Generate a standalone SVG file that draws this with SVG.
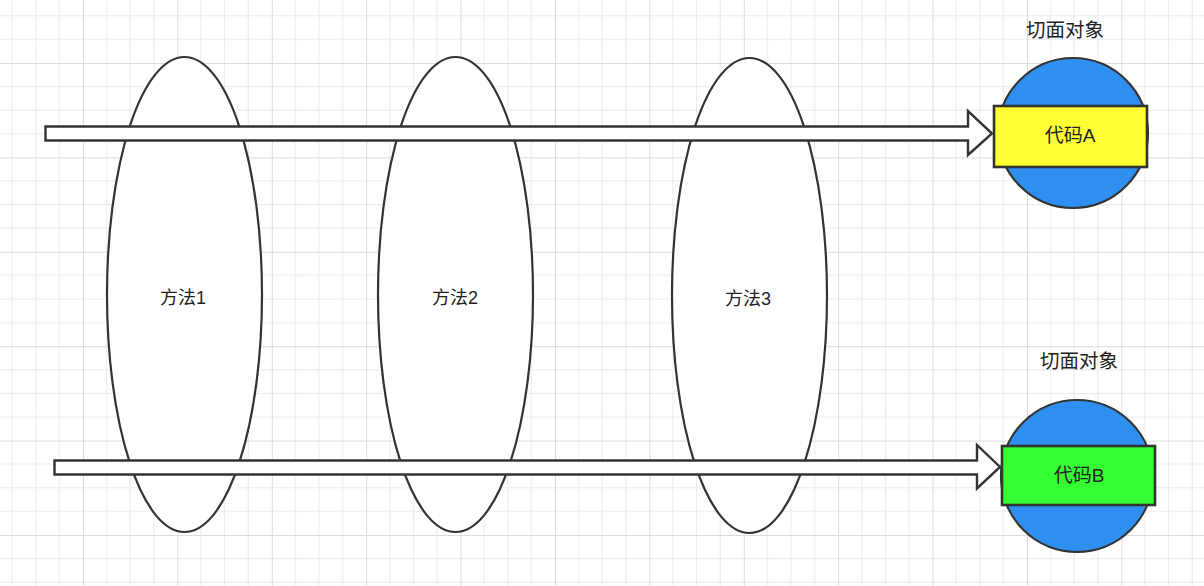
<svg xmlns="http://www.w3.org/2000/svg" width="1204" height="586" viewBox="0 0 1204 586">
<defs>
<pattern id="grid" x="-11.4" y="-31.4" width="94.4" height="94.4" patternUnits="userSpaceOnUse">
<path d="M23.6 0V94.4M47.2 0V94.4M70.8 0V94.4M0 23.6H94.4M0 47.2H94.4M0 70.8H94.4" stroke="#eaeaea" stroke-width="1" fill="none"/>
<path d="M0.5 0V94.4M0 0.5H94.4" stroke="#dcdcdc" stroke-width="1" fill="none"/>
</pattern>
<style>
.ell{fill:#fff;stroke:#333;stroke-width:2.2}
.arr{fill:#fff;stroke:#333;stroke-width:2.4;stroke-linejoin:miter}
.circ{fill:#2f8ff0;stroke:#333;stroke-width:2.2}
.box{stroke:#333;stroke-width:2.6}
.t{font-family:"Liberation Sans","Noto Sans CJK SC",sans-serif;font-size:18px;fill:#222;text-anchor:middle}
.h{font-size:19.5px}
.c{font-size:19px}
</style>
</defs>
<rect width="1204" height="586" fill="#fff"/>
<rect width="1204" height="586" fill="url(#grid)"/>
<g id="method1">
<ellipse class="ell" cx="184.5" cy="294.5" rx="77.5" ry="237.5"/>
<text class="t" x="183" y="304">方法1</text>
</g>
<g id="method2">
<ellipse class="ell" cx="455.5" cy="294.5" rx="77.5" ry="237.5"/>
<text class="t" x="455" y="304">方法2</text>
</g>
<g id="method3">
<ellipse class="ell" cx="749.5" cy="295.5" rx="77.5" ry="237.5"/>
<text class="t" x="748" y="305">方法3</text>
</g>
<g id="connectors">
<polygon class="arr" points="45.5,126.5 968,126.5 968,111 992,133.5 968,155 968,140.5 45.5,140.5"/>
<polygon class="arr" points="54.5,460.5 977,460.5 977,445 1000,467 977,488.5 977,474.5 54.5,474.5"/>
</g>
<g id="aspectA">
<text class="t h" x="1065" y="37">切面对象</text>
<circle class="circ" cx="1073" cy="133" r="75"/>
<rect class="box" x="994" y="106" width="153" height="61" fill="#ffff33"/>
<text class="t c" x="1070" y="142">代码A</text>
</g>
<g id="aspectB">
<text class="t h" x="1079" y="368">切面对象</text>
<circle class="circ" cx="1077" cy="476" r="76"/>
<rect class="box" x="1002" y="446" width="153" height="59" fill="#33ff33"/>
<text class="t c" x="1079" y="482">代码B</text>
</g>
</svg>
